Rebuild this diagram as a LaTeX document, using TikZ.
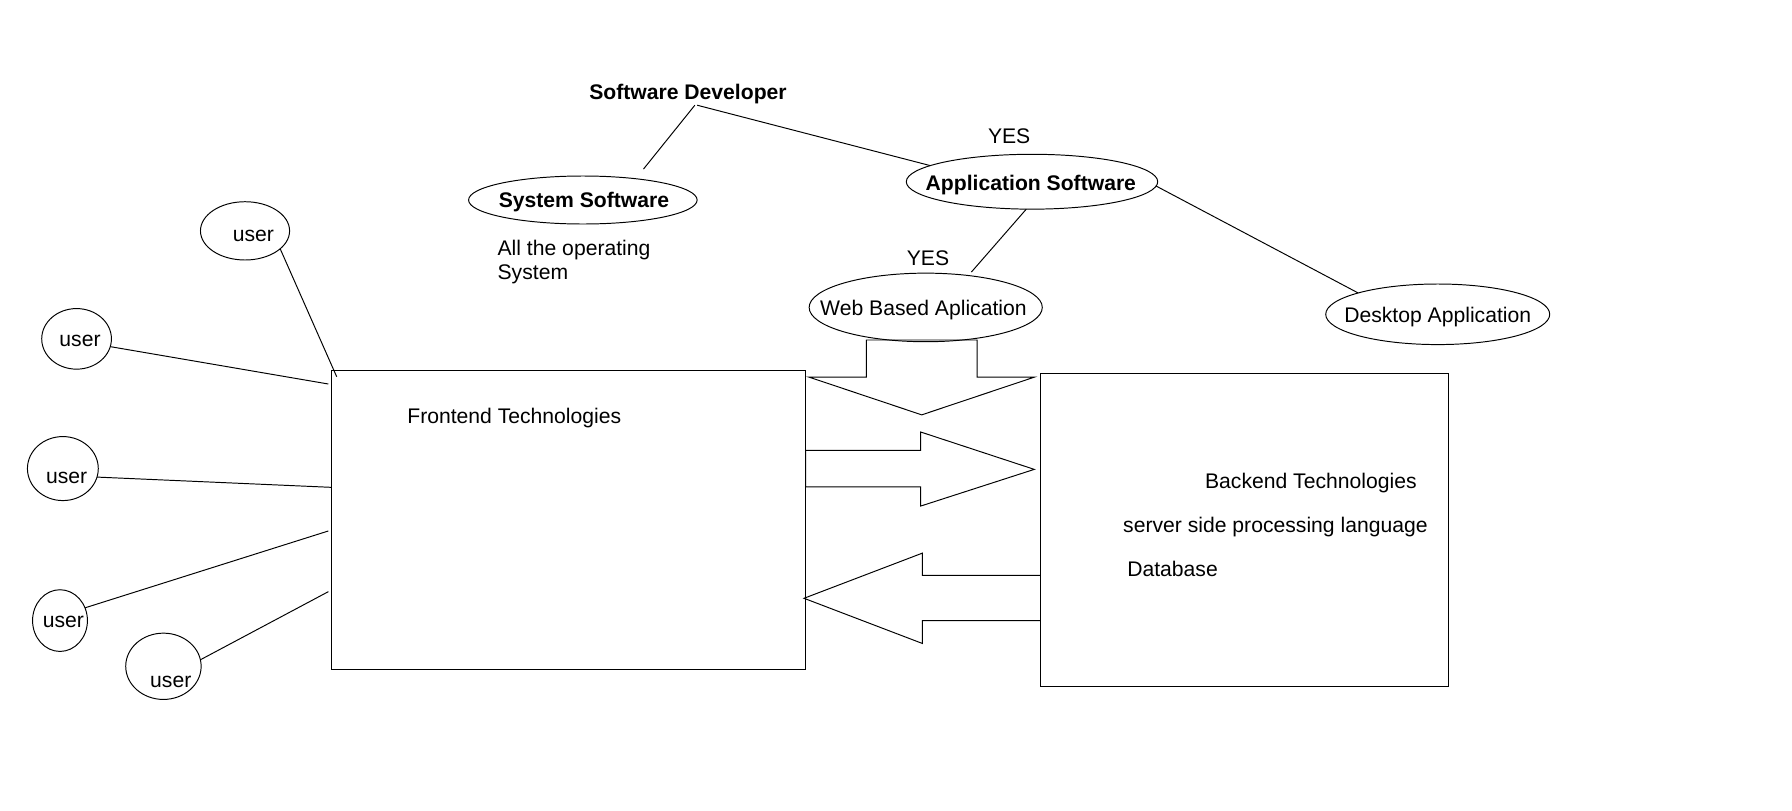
\documentclass[tikz,border=0pt]{standalone}
\usepackage{fontspec}
\setmainfont{Liberation Sans}
\usetikzlibrary{shapes.geometric}
\begin{document}
\begin{tikzpicture}[x=1pt,y=-1pt,line width=0.85pt,
  txt/.style={font=\fontsize{18.5}{21}\selectfont,inner sep=0pt,yshift=-2pt},
  btxt/.style={font=\fontsize{18.5}{21}\selectfont\bfseries,inner sep=0pt,yshift=-2pt},
  oval/.style={draw,ellipse,inner sep=0pt,outer sep=0pt},
  techbox/.style={draw,rectangle,inner sep=0pt,outer sep=0pt,anchor=north west},
  blockarrow/.style={draw,line join=miter}]
\useasboundingbox (0,0) rectangle (1568,709.6);

% top hierarchy
\node[btxt] (sd) at (602,80) {Software Developer};
\node[txt] (yes1) at (883,117) {YES};
\node[oval,minimum width=200pt,minimum height=42pt] (sys) at (510,175) {};
\node[btxt] (systxt) at (511,175) {System Software};
\node[txt,align=left,anchor=west] (ostxt) at (435,227.5) {All the operating\\System};
\node[oval,minimum width=220pt,minimum height=48pt] (app) at (903,159) {};
\node[btxt] (apptxt) at (902,160) {Application Software};
\node[txt] (yes2) at (812,224) {YES};
\node[oval,minimum width=204pt,minimum height=60pt] (web) at (810,269) {};
\node[txt] (webtxt) at (808,269) {Web Based Aplication};
\node[oval,minimum width=196pt,minimum height=53pt] (desk) at (1258,275) {};
\node[txt] (desktxt) at (1258,275) {Desktop Application};

\coordinate (sysend) at (563,148);
\draw ([xshift=6pt,yshift=-1pt]sd.south) -- (sysend);
\draw ([xshift=8pt,yshift=-1pt]sd.south) -- (app.171);
\draw ([xshift=-5pt]app.south) -- ([xshift=40pt,yshift=1pt]web.north);
\draw (app.-2) -- (desk.165);

% technology boxes
\node[techbox,minimum width=415pt,minimum height=262pt] (fe) at (290,324) {};
\node[txt] (fetxt) at (450,364) {Frontend Technologies};
\node[techbox,minimum width=357pt,minimum height=274pt] (be) at (910,327) {};
\node[txt] (betxt1) at (1147,421) {Backend Technologies};
\node[txt] (betxt2) at (1116,459) {server side processing language};
\node[txt] (betxt3) at (1026,496) {Database};

% block arrows
\draw[blockarrow] (758,297.5) -- (855,297.5) -- (855,330) -- (905,330) -- (806.5,363) -- (708,330) -- (758,330) -- cycle;
\draw[blockarrow] (705,394) -- (805.6,394) -- (805.6,378) -- (905,410.7) -- (805.6,442.8) -- (805.6,426) -- (705,426) -- cycle;
\draw[blockarrow] (910,503.4) -- (807,503.4) -- (807,484) -- (703.5,523.5) -- (807,563) -- (807,543) -- (910,543);

% users
\node[oval,minimum width=78pt,minimum height=51pt] (u1) at (214.4,202) {};
\node[txt] (u1t) at (221.7,204) {user};
\node[oval,minimum width=61pt,minimum height=53pt] (u2) at (67,296.5) {};
\node[txt] (u2t) at (70,296) {user};
\node[oval,minimum width=62pt,minimum height=56pt] (u3) at (55,410) {};
\node[txt] (u3t) at (58.3,416.5) {user};
\node[oval,minimum width=48pt,minimum height=54pt] (u4) at (52.5,543) {};
\node[txt] (u4t) at (55.4,542.5) {user};
\node[oval,minimum width=66pt,minimum height=58pt] (u5) at (143,583) {};
\node[txt] (u5t) at (149.4,595) {user};

\coordinate (c1) at (294.6,329.6);
\coordinate (c2) at (287.3,336);
\coordinate (c3) at (289.6,426.4);
\coordinate (c4) at (287.3,464.6);
\coordinate (c5) at (287.3,517.7);
\draw (u1.-27) -- (c1);
\draw (u2.-13) -- (c2);
\draw (u3.-14) -- (c3);
\draw (u4.27) -- (c4);
\draw (u5.10) -- (c5);
\end{tikzpicture}
\end{document}
